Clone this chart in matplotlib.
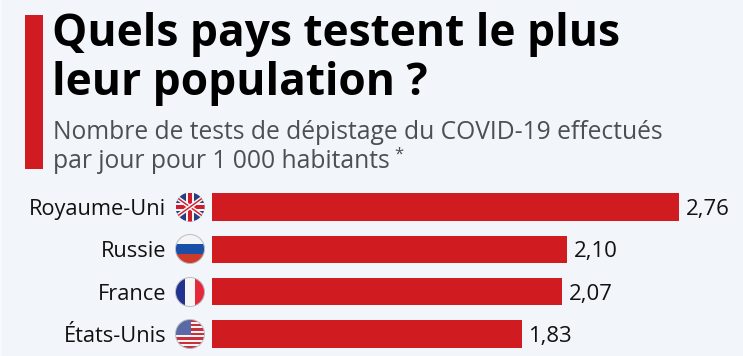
import numpy as np
import matplotlib
matplotlib.use("Agg")
from matplotlib import pyplot as plt
from matplotlib.patches import Circle, Rectangle

plt.rcParams['font.family'] = ['Open Sans', 'DejaVu Sans']

#Datos
paises = ["Royaume-Uni", "Russie", "France", "États-Unis"]
valores = [2.76, 2.10, 2.07, 1.83]
etiquetas = ["2,76", "2,10", "2,07", "1,83"]
titulo = ["Quels pays testent le plus", "leur population ?"]
subtitulo = ["Nombre de tests de dépistage du COVID-19 effectués", "par jour pour 1 000 habitants"]

fondo = "#f2f5fa"
rojo = "#d01c20"
ancho = 743
alto = 356

fig = plt.figure(figsize=(ancho/100, alto/100), dpi=100, facecolor=fondo)

#Capa en pixeles para textos y banderas
capa = fig.add_axes([0, 0, 1, 1])
capa.set_xlim(0, ancho)
capa.set_ylim(alto, 0)
capa.axis("off")

capa.add_patch(Rectangle((0, 0), 2, alto, color="#f8f9fc", lw=0))
capa.add_patch(Rectangle((24.5, 15), 18, 154, color=rojo, lw=0))

capa.text(52, 46, titulo[0], fontsize=31.9, fontweight="bold", color="#000000", va="baseline")
capa.text(52, 95, titulo[1], fontsize=31.9, fontweight="bold", color="#000000", va="baseline")
capa.text(53, 139, subtitulo[0], fontsize=17.75, color="#4a5054", va="baseline")
capa.text(53, 168, subtitulo[1], fontsize=17.75, color="#4a5054", va="baseline")
capa.text(394, 159, "*", fontsize=12, color="#4a5054", va="baseline")

#Barras
ax = fig.add_axes([212/ancho, 0, (ancho-212)/ancho, (alto-186)/alto])
ax.patch.set_alpha(0)
pos = np.arange(len(paises))
ax.barh(pos, valores, height=0.65, color=rojo)
ax.set_xlim(0, (ancho-212)/169.2)
ax.set_ylim((alto-207)/42.3, -(207-186)/42.3)
ax.axis("off")

for i in range(len(paises)):
    ax.annotate(etiquetas[i], (valores[i], i), xytext=(4.6, -5.8), textcoords="offset points",
                fontsize=15.9, color="#111111", va="baseline", ha="left")
    capa.text(166, 215+i*42.3, paises[i], fontsize=15.7, color="#111111", va="baseline", ha="right")

#Banderas
cx = 190
r = 14.5
ys = [207, 249, 292, 334]

def circulo(y):
    return Circle((cx, y), r, transform=capa.transData)

def rect(x, y, w, h, color, clip):
    p = Rectangle((x, y), w, h, color=color, lw=0)
    capa.add_patch(p)
    p.set_clip_path(clip)

def borde(y):
    capa.add_patch(Circle((cx, y), r, fill=False, ec="#b8bcc4", lw=0.7))

#Reino Unido
y = ys[0]
c = circulo(y)
rect(cx-r, y-r, 2*r, 2*r, "#2a3f7e", c)
for d in [1, -1]:
    for grosor, col in [(3.2, "#f4f4f4"), (1.0, "#d01c2c")]:
        l, = capa.plot([cx-r, cx+r], [y-d*r*0.72, y+d*r*0.72], color=col, lw=grosor, solid_capstyle="butt")
        l.set_clip_path(c)
rect(cx-r, y-4, 2*r, 8, "#f4f4f4", c)
rect(cx-4, y-r, 8, 2*r, "#f4f4f4", c)
rect(cx-r, y-2.2, 2*r, 4.4, "#d01c2c", c)
rect(cx-2.2, y-r, 4.4, 2*r, "#d01c2c", c)

#Rusia
y = ys[1]
c = circulo(y)
rect(cx-r, y-r, 2*r, r*2/3, "#f4f4f4", c)
rect(cx-r, y-r/3, 2*r, r*2/3, "#1a4fa8", c)
rect(cx-r, y+r/3, 2*r, r*2/3, "#cf3a2a", c)
borde(y)

#Francia
y = ys[2]
c = circulo(y)
rect(cx-r, y-r, r*2/3, 2*r, "#23328f", c)
rect(cx-r/3, y-r, r*2/3, 2*r, "#f6f6f6", c)
rect(cx+r/3, y-r, r*2/3, 2*r, "#e5293a", c)
borde(y)

#Estados Unidos
y = ys[3]
c = circulo(y)
rect(cx-r, y-r, 2*r, 2*r, "#f4f4f4", c)
franja = 2*r/13
for k in range(0, 13, 2):
    rect(cx-r, y-r+k*franja, 2*r, franja, "#c8303c", c)
rect(cx-r, y-r, r*1.05, franja*7, "#5a6aa6", c)
borde(y)

fig.savefig("out.png", dpi=100, facecolor=fondo)
